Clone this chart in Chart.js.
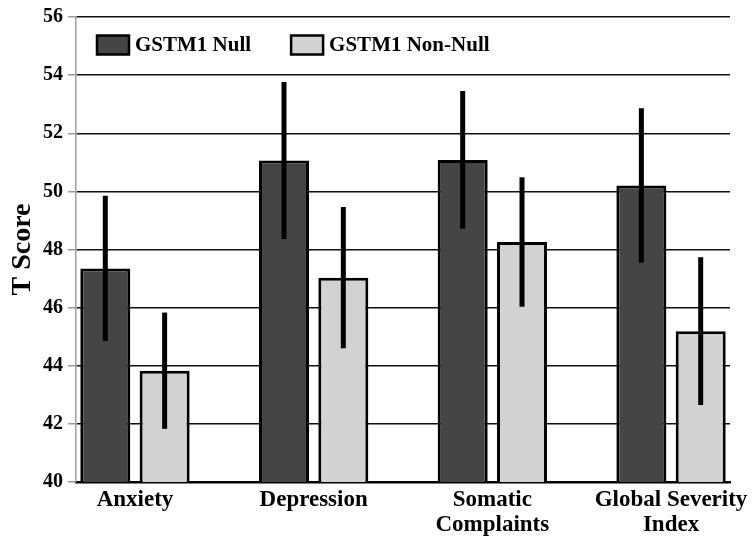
<!DOCTYPE html>
<html><head><meta charset="utf-8">
<script src="https://cdn.jsdelivr.net/npm/chart.js@4/dist/chart.umd.min.js"></script>
<style>html,body{margin:0;padding:0;background:#fff}</style>
</head><body>
<canvas id="c" width="755" height="537"></canvas>
<script>
const categories = [['Anxiety'], ['Depression'], ['Somatic', 'Complaints'], ['Global Severity', 'Index']];
const seriesNames = ['GSTM1 Null', 'GSTM1 Non-Null'];
const nullMeans = [47.35, 51.06, 51.08, 50.20];
const nullErrors = [2.50, 2.70, 2.37, 2.66];
const nonNullMeans = [43.83, 47.03, 48.26, 45.19];
const nonNullErrors = [2.00, 2.43, 2.23, 2.54];
const yTickValues = [40, 42, 44, 46, 48, 50, 52, 54, 56];

const FONT = "'Liberation Serif', 'Times New Roman', serif";

const errorBars = {
  id: 'errorBars',
  afterDatasetsDraw(chart) {
    const ctx = chart.ctx, ys = chart.scales.y;
    chart.data.datasets.forEach((ds, i) => {
      const meta = chart.getDatasetMeta(i);
      meta.data.forEach((bar, j) => {
        const m = ds.data[j].y, e = ds.errors[j];
        ctx.save();
        ctx.strokeStyle = '#000';
        ctx.lineWidth = 5;
        ctx.lineCap = 'butt';
        ctx.beginPath();
        ctx.moveTo(bar.x, ys.getPixelForValue(m + e));
        ctx.lineTo(bar.x, ys.getPixelForValue(m - e));
        ctx.stroke();
        ctx.restore();
      });
    });
  }
};

const insideLegend = {
  id: 'insideLegend',
  afterDraw(chart) {
    const ctx = chart.ctx, a = chart.chartArea;
    let x = a.left + 21;
    const yc = a.top + 28;
    ctx.save();
    ctx.font = "bold 21px " + FONT;
    ctx.textBaseline = 'middle';
    ctx.textAlign = 'left';
    chart.data.datasets.forEach((ds) => {
      const w = 32, h = 19;
      ctx.fillStyle = ds.backgroundColor;
      ctx.fillRect(x, yc - h / 2, w, h);
      ctx.strokeStyle = '#000';
      ctx.lineWidth = 2.5;
      ctx.strokeRect(x, yc - h / 2, w, h);
      ctx.fillStyle = '#000';
      ctx.fillText(ds.label, x + w + 6, yc + 1);
      x += w + 6 + ctx.measureText(ds.label).width + 40;
    });
    ctx.restore();
  }
};

new Chart(document.getElementById('c'), {
  type: 'bar',
  data: {
    datasets: [
      {
        label: seriesNames[0],
        data: nullMeans.map((v, i) => ({ x: i, y: v })),
        errors: nullErrors,
        backgroundColor: '#454545',
        borderColor: '#000',
        borderWidth: 3,
        borderSkipped: false
      },
      {
        label: seriesNames[1],
        data: nonNullMeans.map((v, i) => ({ x: i, y: v })),
        errors: nonNullErrors,
        backgroundColor: '#d2d2d2',
        borderColor: '#000',
        borderWidth: 3,
        borderSkipped: false
      }
    ]
  },
  options: {
    responsive: false,
    animation: false,
    devicePixelRatio: 1,
    categoryPercentage: 0.664,
    barPercentage: 0.843,
    layout: { padding: { top: 10, right: 25, left: 0, bottom: 0 } },
    plugins: { legend: { display: false }, tooltip: { enabled: false } },
    scales: {
      x: {
        type: 'linear',
        offset: false,
        min: -0.33,
        max: 3.33,
        afterBuildTicks: (s) => { s.ticks = categories.map((c, i) => ({ value: i })); },
        afterFit: (s) => { s.height = 55; },
        grid: { display: false, drawTicks: false, offset: false },
        border: { color: '#000', width: 2.5 },
        ticks: {
          callback: (v) => categories[v] || '',
          font: { family: FONT, weight: 'bold', size: 23, lineHeight: 1.1 },
          color: '#000',
          padding: 5,
          maxRotation: 0,
          autoSkip: false
        }
      },
      y: {
        min: 40,
        max: 56,
        afterBuildTicks: (s) => { s.ticks = yTickValues.map(v => ({ value: v })); },
        afterFit: (s) => { s.width = 76; },
        grid: { color: '#111', lineWidth: 1.5, tickColor: '#999', tickLength: 8 },
        border: { color: '#a0a0a0', width: 1.5 },
        ticks: {
          font: { family: FONT, weight: 'bold', size: 20 },
          color: '#000',
          padding: 5
        },
        title: {
          display: true,
          text: 'T Score',
          font: { family: FONT, weight: 'bold', size: 28 },
          color: '#000',
          padding: { top: 6, bottom: 0 }
        }
      }
    }
  },
  plugins: [errorBars, insideLegend]
});
</script>
</body></html>
